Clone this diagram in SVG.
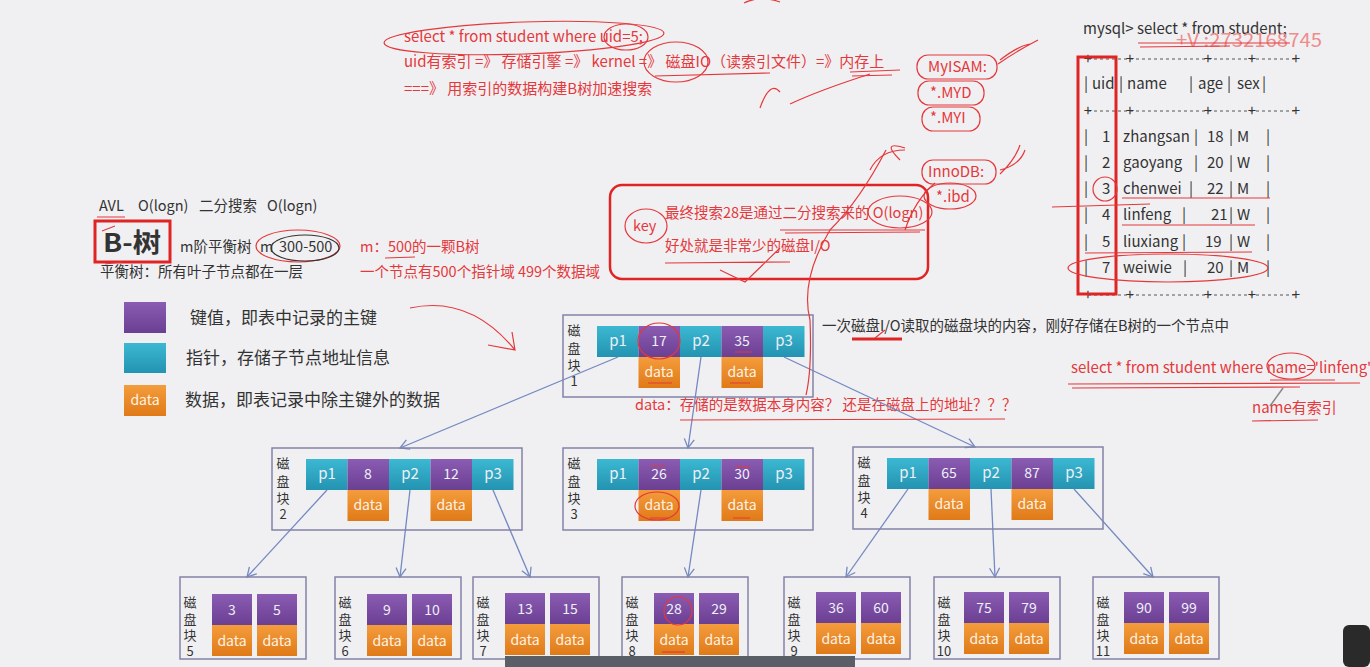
<svg xmlns="http://www.w3.org/2000/svg" width="1370" height="667" viewBox="0 0 1370 667">
<defs>
<linearGradient id="gPur" x1="0" y1="0" x2="0" y2="1"><stop offset="0" stop-color="#8a5cb3"/><stop offset="1" stop-color="#6b3f92"/></linearGradient>
<linearGradient id="gCy" x1="0" y1="0" x2="0" y2="1"><stop offset="0" stop-color="#3cb8d2"/><stop offset="1" stop-color="#2393b2"/></linearGradient>
<linearGradient id="gOr" x1="0" y1="0" x2="0" y2="1"><stop offset="0" stop-color="#f49c3c"/><stop offset="1" stop-color="#e07a18"/></linearGradient>
<marker id="arr" markerWidth="12" markerHeight="12" refX="10" refY="6" orient="auto" markerUnits="userSpaceOnUse">
<path d="M1,1 L10,6 L1,11" fill="none" stroke="#7489c2" stroke-width="1.3"/>
</marker>
<style>
text{font-family:"Noto Sans CJK SC","Noto Sans",sans-serif;}
.t{fill:#333;font-size:14.5px;}
.r{fill:#e5383c;font-size:14.5px;}
.r15{fill:#e5383c;font-size:15px;}
.tb{fill:#333;font-size:15px;}
.box{fill:none;stroke:#8383a8;stroke-width:1.5;}
.pur{fill:url(#gPur);}
.cy{fill:url(#gCy);}
.or{fill:url(#gOr);}
.ct{fill:#eef0f6;font-size:15px;text-anchor:middle;}
.cn{fill:#eef0f6;font-size:14px;text-anchor:middle;}
.dt{fill:#fdf2e6;font-size:14px;text-anchor:middle;}
.lb{fill:#333;font-size:13px;text-anchor:middle;}
.lg{fill:#333;font-size:17px;}
.conn{stroke:#7489c2;stroke-width:1.3;fill:none;}
.an{stroke:#e5383c;stroke-width:1.2;fill:none;}
.an2{stroke:#e02424;stroke-width:3;fill:none;}
</style>
</defs>
<rect width="1370" height="667" fill="#f0f0f2"/>

<!-- top red notes -->
<g id="notes-top">
<text class="r15" x="404" y="42">select * from student where uid=5;</text>
<text class="r15" x="404" y="67">uid有索引 =》 存储引擎 =》 kernel =》 磁盘IO（读索引文件）=》内存上</text>
<text class="r15" x="404" y="94">===》 用索引的数据构建B树加速搜索</text>
<text class="r15" x="928" y="72">MyISAM:</text>
<text class="r15" x="930" y="98">*.MYD</text>
<text class="r15" x="930" y="123">*.MYI</text>
<text class="r15" x="928" y="177">InnoDB:</text>
<text class="r15" x="936" y="202">*.ibd</text>
</g>

<!-- mysql table -->
<g id="table">
<text class="tb" x="1083" y="34">mysql&gt; select * from student;</text>
<text x="1176" y="47" fill="#ee8c8c" font-size="19" textLength="146" lengthAdjust="spacingAndGlyphs">+V :2732168745</text>
<g stroke="#555" stroke-width="1" stroke-dasharray="3 3">
<line x1="1088" y1="59" x2="1296" y2="59"/>
<line x1="1088" y1="111" x2="1296" y2="111"/>
<line x1="1088" y1="295" x2="1296" y2="295"/>
</g>
<g class="tb" text-anchor="middle">
<text y="64"><tspan x="1088">+</tspan><tspan x="1130">+</tspan><tspan x="1208">+</tspan><tspan x="1252">+</tspan><tspan x="1296">+</tspan></text>
<text y="116"><tspan x="1088">+</tspan><tspan x="1130">+</tspan><tspan x="1208">+</tspan><tspan x="1252">+</tspan><tspan x="1296">+</tspan></text>
<text y="300"><tspan x="1088">+</tspan><tspan x="1130">+</tspan><tspan x="1208">+</tspan><tspan x="1252">+</tspan><tspan x="1296">+</tspan></text>
</g>
<text class="tb" y="89"><tspan x="1084">|</tspan><tspan x="1092">uid</tspan><tspan x="1119">|</tspan><tspan x="1127">name</tspan><tspan x="1189">|</tspan><tspan x="1198">age</tspan><tspan x="1227">|</tspan><tspan x="1237">sex</tspan><tspan x="1262">|</tspan></text>
<text class="tb" y="142"><tspan x="1084">|</tspan><tspan x="1102">1</tspan><tspan x="1123">zhangsan</tspan><tspan x="1194">|</tspan><tspan x="1207">18</tspan><tspan x="1229">|</tspan><tspan x="1237">M</tspan><tspan x="1266">|</tspan></text>
<text class="tb" y="168"><tspan x="1084">|</tspan><tspan x="1102">2</tspan><tspan x="1123">gaoyang</tspan><tspan x="1194">|</tspan><tspan x="1207">20</tspan><tspan x="1229">|</tspan><tspan x="1237">W</tspan><tspan x="1266">|</tspan></text>
<text class="tb" y="194"><tspan x="1084">|</tspan><tspan x="1102">3</tspan><tspan x="1123">chenwei</tspan><tspan x="1189">|</tspan><tspan x="1207">22</tspan><tspan x="1229">|</tspan><tspan x="1237">M</tspan><tspan x="1266">|</tspan></text>
<text class="tb" y="220"><tspan x="1084">|</tspan><tspan x="1102">4</tspan><tspan x="1123">linfeng</tspan><tspan x="1182">|</tspan><tspan x="1211">21</tspan><tspan x="1229">|</tspan><tspan x="1237">W</tspan><tspan x="1266">|</tspan></text>
<text class="tb" y="247"><tspan x="1084">|</tspan><tspan x="1102">5</tspan><tspan x="1123">liuxiang</tspan><tspan x="1182">|</tspan><tspan x="1205">19</tspan><tspan x="1229">|</tspan><tspan x="1237">W</tspan><tspan x="1266">|</tspan></text>
<text class="tb" y="273"><tspan x="1084">|</tspan><tspan x="1102">7</tspan><tspan x="1123">weiwie</tspan><tspan x="1183">|</tspan><tspan x="1207">20</tspan><tspan x="1229">|</tspan><tspan x="1237">M</tspan><tspan x="1266">|</tspan></text>
<rect x="1078" y="57" width="38" height="237" class="an2"/>
</g>

<!-- left notes -->
<g id="notes-left">
<text class="t" y="211"><tspan x="99">AVL</tspan><tspan x="138">O(logn)</tspan><tspan x="199">二分搜索</tspan><tspan x="267">O(logn)</tspan></text>
<rect x="95" y="221" width="75" height="41" class="an2"/>
<text x="103" y="252" fill="#333" font-size="26" font-weight="bold" textLength="58" lengthAdjust="spacingAndGlyphs">B-树</text>
<text class="t" x="180" y="252">m阶平衡树</text>
<text class="t" x="260" y="252">m</text>
<text class="t" x="279" y="252">300-500</text>
<text class="r" x="360" y="252">m：500的一颗B树</text>
<text class="t" x="100" y="277">平衡树：所有叶子节点都在一层</text>
<text class="r" x="360" y="277">一个节点有500个指针域 499个数据域</text>
</g>

<!-- key box -->
<g id="key-note">
<rect x="610" y="185" width="318" height="94" rx="12" fill="none" stroke="#e02424" stroke-width="2.5"/>
<text class="r" x="633" y="231">key</text>
<text class="r" x="665" y="218">最终搜索28是通过二分搜索来的 O(logn)</text>
<text class="r" x="665" y="251">好处就是非常少的磁盘I/O</text>
</g>

<!-- legend -->
<g id="legend">
<rect x="124" y="302" width="42" height="31" class="pur"/>
<text class="lg" x="190" y="324">键值，即表中记录的主键</text>
<rect x="124" y="343" width="42" height="30" class="cy"/>
<text class="lg" x="186" y="364">指针，存储子节点地址信息</text>
<rect x="124" y="385" width="42" height="31" class="or"/>
<text class="dt" x="145" y="405">data</text>
<text class="lg" x="185" y="406">数据，即表记录中除主键外的数据</text>
</g>

<text class="t" x="822" y="331">一次磁盘I/O读取的磁盘块的内容，刚好存储在B树的一个节点中</text>
<text class="r" x="635" y="410">data：存储的是数据本身内容？ 还是在磁盘上的地址？？？</text>
<text class="r15" x="1071" y="373">select * from student where name='linfeng'</text>
<text class="r15" x="1252" y="413">name有索引</text>

<!-- connectors -->
<g id="connectors">
<line class="conn" x1="618" y1="357" x2="400" y2="448" marker-end="url(#arr)"/>
<line class="conn" x1="701" y1="357" x2="688" y2="448" marker-end="url(#arr)"/>
<line class="conn" x1="784" y1="357" x2="975" y2="447" marker-end="url(#arr)"/>
<line class="conn" x1="327" y1="490" x2="247" y2="577" marker-end="url(#arr)"/>
<line class="conn" x1="410" y1="490" x2="400" y2="577" marker-end="url(#arr)"/>
<line class="conn" x1="493" y1="490" x2="530" y2="577" marker-end="url(#arr)"/>
<line class="conn" x1="701" y1="490" x2="688" y2="577" marker-end="url(#arr)"/>
<line class="conn" x1="908" y1="489" x2="846" y2="577" marker-end="url(#arr)"/>
<line class="conn" x1="991" y1="489" x2="995" y2="577" marker-end="url(#arr)"/>
<line class="conn" x1="1074" y1="489" x2="1153" y2="577" marker-end="url(#arr)"/>
</g>

<!-- internal nodes -->
<g id="node1">
<rect class="box" x="563" y="315" width="250" height="82"/>
<text class="lb" x="574" y="335">磁</text><text class="lb" x="574" y="353">盘</text><text class="lb" x="574" y="370">块</text><text class="lb" x="574" y="386">1</text>
<rect class="cy" x="597" y="326" width="41.5" height="31"/><rect class="pur" x="638.5" y="326" width="41.5" height="31"/><rect class="cy" x="680" y="326" width="41.5" height="31"/><rect class="pur" x="721.5" y="326" width="41.5" height="31"/><rect class="cy" x="763" y="326" width="41.5" height="31"/>
<rect class="or" x="638.5" y="357" width="41.5" height="31"/><rect class="or" x="721.5" y="357" width="41.5" height="31"/>
<text class="ct" x="618" y="346">p1</text><text class="cn" x="659" y="346">17</text><text class="ct" x="701" y="346">p2</text><text class="cn" x="742" y="346">35</text><text class="ct" x="784" y="346">p3</text>
<text class="dt" x="659" y="377">data</text><text class="dt" x="742" y="377">data</text>
</g>
<g id="node2">
<rect class="box" x="272" y="448" width="250" height="82"/>
<text class="lb" x="283" y="468">磁</text><text class="lb" x="283" y="486">盘</text><text class="lb" x="283" y="503">块</text><text class="lb" x="283" y="519">2</text>
<rect class="cy" x="306" y="459" width="41.5" height="31"/><rect class="pur" x="347.5" y="459" width="41.5" height="31"/><rect class="cy" x="389" y="459" width="41.5" height="31"/><rect class="pur" x="430.5" y="459" width="41.5" height="31"/><rect class="cy" x="472" y="459" width="41.5" height="31"/>
<rect class="or" x="347.5" y="490" width="41.5" height="31"/><rect class="or" x="430.5" y="490" width="41.5" height="31"/>
<text class="ct" x="327" y="479">p1</text><text class="cn" x="368" y="479">8</text><text class="ct" x="410" y="479">p2</text><text class="cn" x="451" y="479">12</text><text class="ct" x="493" y="479">p3</text>
<text class="dt" x="368" y="510">data</text><text class="dt" x="451" y="510">data</text>
</g>
<g id="node3">
<rect class="box" x="563" y="448" width="250" height="82"/>
<text class="lb" x="574" y="468">磁</text><text class="lb" x="574" y="486">盘</text><text class="lb" x="574" y="503">块</text><text class="lb" x="574" y="519">3</text>
<rect class="cy" x="597" y="459" width="41.5" height="31"/><rect class="pur" x="638.5" y="459" width="41.5" height="31"/><rect class="cy" x="680" y="459" width="41.5" height="31"/><rect class="pur" x="721.5" y="459" width="41.5" height="31"/><rect class="cy" x="763" y="459" width="41.5" height="31"/>
<rect class="or" x="638.5" y="490" width="41.5" height="31"/><rect class="or" x="721.5" y="490" width="41.5" height="31"/>
<text class="ct" x="618" y="479">p1</text><text class="cn" x="659" y="479">26</text><text class="ct" x="701" y="479">p2</text><text class="cn" x="742" y="479">30</text><text class="ct" x="784" y="479">p3</text>
<text class="dt" x="659" y="510">data</text><text class="dt" x="742" y="510">data</text>
</g>
<g id="node4">
<rect class="box" x="853" y="447" width="250" height="82"/>
<text class="lb" x="864" y="467">磁</text><text class="lb" x="864" y="485">盘</text><text class="lb" x="864" y="502">块</text><text class="lb" x="864" y="518">4</text>
<rect class="cy" x="887" y="458" width="41.5" height="31"/><rect class="pur" x="928.5" y="458" width="41.5" height="31"/><rect class="cy" x="970" y="458" width="41.5" height="31"/><rect class="pur" x="1011.5" y="458" width="41.5" height="31"/><rect class="cy" x="1053" y="458" width="41.5" height="31"/>
<rect class="or" x="928.5" y="489" width="41.5" height="31"/><rect class="or" x="1011.5" y="489" width="41.5" height="31"/>
<text class="ct" x="908" y="478">p1</text><text class="cn" x="949" y="478">65</text><text class="ct" x="991" y="478">p2</text><text class="cn" x="1032" y="478">87</text><text class="ct" x="1074" y="478">p3</text>
<text class="dt" x="949" y="509">data</text><text class="dt" x="1032" y="509">data</text>
</g>

<!-- leaves -->
<g id="node5">
<rect class="box" x="180" y="577" width="126" height="82"/>
<text class="lb" x="190" y="607">磁</text><text class="lb" x="190" y="624">盘</text><text class="lb" x="190" y="640">块</text><text class="lb" x="190" y="656">5</text>
<rect class="pur" x="212" y="594" width="40" height="31"/><rect class="pur" x="257" y="594" width="40" height="31"/>
<rect class="or" x="212" y="625" width="40" height="31"/><rect class="or" x="257" y="625" width="40" height="31"/>
<text class="cn" x="232" y="615">3</text><text class="cn" x="277" y="615">5</text>
<text class="dt" x="232" y="646">data</text><text class="dt" x="277" y="646">data</text>
</g>
<g id="node6">
<rect class="box" x="335" y="577" width="126" height="82"/>
<text class="lb" x="345" y="607">磁</text><text class="lb" x="345" y="624">盘</text><text class="lb" x="345" y="640">块</text><text class="lb" x="345" y="656">6</text>
<rect class="pur" x="367" y="594" width="40" height="31"/><rect class="pur" x="412" y="594" width="40" height="31"/>
<rect class="or" x="367" y="625" width="40" height="31"/><rect class="or" x="412" y="625" width="40" height="31"/>
<text class="cn" x="387" y="615">9</text><text class="cn" x="432" y="615">10</text>
<text class="dt" x="387" y="646">data</text><text class="dt" x="432" y="646">data</text>
</g>
<g id="node7">
<rect class="box" x="473" y="577" width="126" height="82"/>
<text class="lb" x="483" y="607">磁</text><text class="lb" x="483" y="624">盘</text><text class="lb" x="483" y="640">块</text><text class="lb" x="483" y="656">7</text>
<rect class="pur" x="505" y="593" width="40" height="31"/><rect class="pur" x="550" y="593" width="40" height="31"/>
<rect class="or" x="505" y="624" width="40" height="31"/><rect class="or" x="550" y="624" width="40" height="31"/>
<text class="cn" x="525" y="614">13</text><text class="cn" x="570" y="614">15</text>
<text class="dt" x="525" y="645">data</text><text class="dt" x="570" y="645">data</text>
</g>
<g id="node8">
<rect class="box" x="622" y="577" width="126" height="82"/>
<text class="lb" x="632" y="607">磁</text><text class="lb" x="632" y="624">盘</text><text class="lb" x="632" y="640">块</text><text class="lb" x="632" y="656">8</text>
<rect class="pur" x="654" y="593" width="40" height="31"/><rect class="pur" x="699" y="593" width="40" height="31"/>
<rect class="or" x="654" y="624" width="40" height="31"/><rect class="or" x="699" y="624" width="40" height="31"/>
<text class="cn" x="674" y="614">28</text><text class="cn" x="719" y="614">29</text>
<text class="dt" x="674" y="645">data</text><text class="dt" x="719" y="645">data</text>
</g>
<g id="node9">
<rect class="box" x="784" y="577" width="126" height="82"/>
<text class="lb" x="794" y="607">磁</text><text class="lb" x="794" y="624">盘</text><text class="lb" x="794" y="640">块</text><text class="lb" x="794" y="656">9</text>
<rect class="pur" x="816" y="592" width="40" height="31"/><rect class="pur" x="861" y="592" width="40" height="31"/>
<rect class="or" x="816" y="623" width="40" height="31"/><rect class="or" x="861" y="623" width="40" height="31"/>
<text class="cn" x="836" y="613">36</text><text class="cn" x="881" y="613">60</text>
<text class="dt" x="836" y="644">data</text><text class="dt" x="881" y="644">data</text>
</g>
<g id="node10">
<rect class="box" x="934" y="577" width="126" height="82"/>
<text class="lb" x="944" y="607">磁</text><text class="lb" x="944" y="624">盘</text><text class="lb" x="944" y="640">块</text><text class="lb" x="944" y="656">10</text>
<rect class="pur" x="964" y="592" width="40" height="31"/><rect class="pur" x="1009" y="592" width="40" height="31"/>
<rect class="or" x="964" y="623" width="40" height="31"/><rect class="or" x="1009" y="623" width="40" height="31"/>
<text class="cn" x="984" y="613">75</text><text class="cn" x="1029" y="613">79</text>
<text class="dt" x="984" y="644">data</text><text class="dt" x="1029" y="644">data</text>
</g>
<g id="node11">
<rect class="box" x="1093" y="577" width="126" height="82"/>
<text class="lb" x="1103" y="607">磁</text><text class="lb" x="1103" y="624">盘</text><text class="lb" x="1103" y="640">块</text><text class="lb" x="1103" y="656">11</text>
<rect class="pur" x="1124" y="592" width="40" height="31"/><rect class="pur" x="1169" y="592" width="40" height="31"/>
<rect class="or" x="1124" y="623" width="40" height="31"/><rect class="or" x="1169" y="623" width="40" height="31"/>
<text class="cn" x="1144" y="613">90</text><text class="cn" x="1189" y="613">99</text>
<text class="dt" x="1144" y="644">data</text><text class="dt" x="1189" y="644">data</text>
</g>

<!-- hand-drawn annotations -->
<g id="annotations">
<ellipse class="an" cx="524" cy="38" rx="140" ry="16" transform="rotate(-2 524 38)"/>
<ellipse class="an" cx="626" cy="37" rx="22" ry="13"/>
<ellipse class="an" cx="676" cy="62" rx="32" ry="20"/>
<path class="an" d="M655 76 L770 73 M850 72 L900 70 M852 76 L892 75"/>
<path class="an" d="M760 108 Q770 80 780 92 M870 74 Q820 90 790 104 M744 3 Q760 -5 780 2"/>
<rect class="an" x="917" y="55" width="80" height="24" rx="11"/>
<rect class="an" x="918" y="81" width="66" height="24" rx="11"/>
<rect class="an" x="922" y="107" width="58" height="24" rx="11"/>
<path class="an" d="M998 64 Q1015 52 1038 40 M1000 60 Q1018 46 1030 44"/>
<rect class="an" x="922" y="160" width="74" height="24" rx="11"/>
<ellipse class="an" cx="950" cy="196" rx="26" ry="13"/>
<path class="an" d="M900 160 Q880 140 905 148 M870 170 Q880 150 905 150"/>
<path class="an" d="M1000 170 Q1020 165 1025 150 M1000 174 Q1015 160 1020 145"/>
<path class="an" d="M1138 43 L1290 43 M1140 47 L1230 46"/>
<circle class="an" cx="1105" cy="189" r="12"/>
<path class="an" d="M1122 198 L1270 198 M1052 207 L1150 204 M1122 225 L1255 225 M1085 253 L1252 252"/>
<ellipse class="an" cx="1168" cy="268" rx="100" ry="14"/>
<path class="an" d="M97 217 L125 217 M102 231 L115 226 M105 264 L122 262"/>
<ellipse class="an" cx="298" cy="246" rx="42" ry="16"/>
<ellipse cx="305" cy="248" rx="34" ry="13" fill="none" stroke="#333" stroke-width="1.2"/>
<path class="an" d="M385 258 L415 257"/>
<ellipse class="an" cx="646" cy="226" rx="21" ry="17"/>
<ellipse class="an" cx="900" cy="212" rx="32" ry="16"/>
<path class="an" d="M780 230 L925 230 M785 233 L920 232 M665 263 L790 262 M780 248 L745 282 L720 270"/>
<path class="an" d="M886 150 Q860 200 830 230 Q800 280 810 320 Q812 370 806 395 M935 183 Q915 200 905 230"/>
<path class="an" d="M410 308 Q470 295 515 350 M488 345 L515 350 L512 332"/>
<ellipse class="an" cx="659" cy="341" rx="21" ry="18"/>
<path class="an" d="M735 352 L752 352 M648 383 L672 383 M730 383 L750 383"/>
<path class="an2" d="M852 339 L902 339" stroke-width="2.5"/>
<path class="an" d="M875 338 L885 330"/>
<path class="an" d="M680 420 L1005 419"/>
<ellipse class="an" cx="1291" cy="366" rx="24" ry="13"/>
<path class="an" d="M1068 384 L1360 383 M1072 388 L1300 387 M1270 380 L1335 380"/>
<path class="an" d="M1252 421 L1318 420"/>
<ellipse class="an" cx="657" cy="506" rx="22" ry="14"/>
<path class="an" d="M650 466 L665 466 M735 466 L750 467 M650 518 L668 518 M733 518 L750 518"/>
<circle class="an" cx="678" cy="611" r="14"/>
<path class="an" d="M662 652 L685 652"/>
<path d="M1283 388 L1270 406" stroke="#888" stroke-width="1.5"/>
</g>

<!-- video progress bar -->
<rect x="505" y="656" width="350" height="11" fill="#5a5e66"/>
<rect x="1343" y="625" width="27" height="42" rx="6" fill="#2a2a2a"/>
</svg>
